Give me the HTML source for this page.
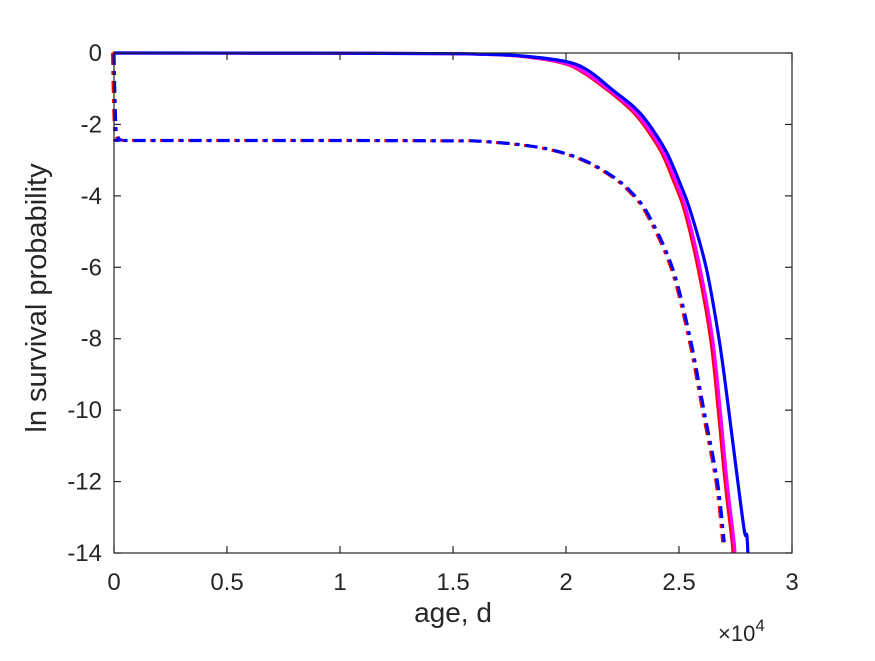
<!DOCTYPE html>
<html><head><meta charset="utf-8"><style>
body{margin:0;background:#fff;}
svg text{font-family:"Liberation Sans",sans-serif;fill:#262626;}
</style></head><body>
<svg id="chart" width="875" height="656" viewBox="0 0 875 656" xmlns="http://www.w3.org/2000/svg">
<rect width="875" height="656" fill="#fff"/>
<g id="series"></g>
<g id="axes"></g>
</svg>
<script>
const xTicks=[0,0.5,1,1.5,2,2.5,3];
const xTickLabels=["0","0.5","1","1.5","2","2.5","3"];
const yTicks=[0,-2,-4,-6,-8,-10,-12,-14];
const yTickLabels=["0","-2","-4","-6","-8","-10","-12","-14"];
const solidBlueT=[0,1.0,1.5,1.62,1.8,2.0,2.1,2.207,2.28,2.327,2.385,2.447,2.504,2.549,2.62,2.677,2.72,2.76,2.79,2.80,2.805];
const solidBlueV=[0,-0.005,-0.02,-0.03,-0.08,-0.24,-0.5,-1.04,-1.4,-1.68,-2.16,-2.8,-3.64,-4.4,-6,-8,-10,-12,-13.4,-13.5,-14];
const solidPinkT=[0,1.0,1.5,1.62,1.8,1.99,2.09,2.19,2.26,2.31,2.367,2.43,2.486,2.53,2.59,2.646,2.68,2.71,2.74,2.745];
const solidPinkV=[0,-0.005,-0.02,-0.035,-0.09,-0.28,-0.58,-1.04,-1.4,-1.7,-2.16,-2.8,-3.64,-4.4,-6,-8,-10,-12,-13.6,-14];
const dashT=[0,0.001,0.003,0.006,0.01,0.02,0.03,0.1,1.0,1.5,1.62,1.84,1.99,2.106,2.21,2.28,2.36,2.47,2.55,2.61,2.67,2.70];
const dashV=[0,-0.3,-1.0,-1.7,-2.2,-2.38,-2.43,-2.45,-2.45,-2.46,-2.47,-2.6,-2.8,-3.08,-3.47,-3.84,-4.48,-6,-8,-10,-12,-13.7];
const X0=114,X1=792,Y0=53,Y1=553;
function sx(v){return X0+(v-0)/(3-0)*(X1-X0);}
function sy(v){return Y0+(0-v)/(0-(-14))*(Y1-Y0);}
const NS="http://www.w3.org/2000/svg";
function pathD(ts,vs,dx){
 const P=ts.map((t,i)=>[sx(t)+(dx||0),sy(vs[i])]);
 let d="M"+P[0][0].toFixed(1)+","+P[0][1].toFixed(1);
 for(let i=0;i<P.length-1;i++){
  const p0=P[Math.max(0,i-1)],p1=P[i],p2=P[i+1],p3=P[Math.min(P.length-1,i+2)];
  const c1=[p1[0]+(p2[0]-p0[0])/6,p1[1]+(p2[1]-p0[1])/6];
  const c2=[p2[0]-(p3[0]-p1[0])/6,p2[1]-(p3[1]-p1[1])/6];
  d+=" C"+c1[0].toFixed(1)+","+c1[1].toFixed(1)+" "+c2[0].toFixed(1)+","+c2[1].toFixed(1)+" "+p2[0].toFixed(1)+","+p2[1].toFixed(1);
 }
 return d;}
const sg=document.getElementById('series');
function addPath(name,d,color,w,dash){
 const p=document.createElementNS(NS,'path');
 
 
 p.setAttribute('d',d);p.setAttribute('fill','none');p.setAttribute('stroke',color);
 p.setAttribute('stroke-width',w);p.setAttribute('stroke-linejoin','round');
 if(dash)p.setAttribute('stroke-dasharray',dash);
 sg.appendChild(p);
}
addPath('red-dashdot-line',pathD(dashT,dashV,-1.5),'#ff0000',3,'12 6 4 6');
addPath('blue-dashdot-line',pathD(dashT,dashV,0),'#0000ff',3.2,'12 6 4 6');
addPath('red-solid-line',pathD(solidPinkT,solidPinkV,-1.5),'#ff0000',3);
addPath('magenta-solid-line',pathD(solidPinkT,solidPinkV,0.5),'#ff00ff',3.2);
addPath('blue-solid-line',pathD(solidBlueT,solidBlueV,0),'#0000ff',3.2);
const ag=document.getElementById('axes');
function el(tag,attrs,name,txt){const e=document.createElementNS(NS,tag);for(const k in attrs)e.setAttribute(k,attrs[k]);
 
 
 if(txt!==undefined)e.textContent=txt;ag.appendChild(e);return e;}
el('rect',{x:X0,y:Y0,width:X1-X0,height:Y1-Y0,fill:'none',stroke:'#262626','stroke-width':1.2},'plot-frame');
xTicks.forEach((t,i)=>{const x=sx(t);
 el('line',{x1:x,y1:Y1,x2:x,y2:Y1-7,stroke:'#262626','stroke-width':1.2},'x-tick');
 el('line',{x1:x,y1:Y0,x2:x,y2:Y0+7,stroke:'#262626','stroke-width':1.2},'x-tick-top');
 el('text',{x:x,y:Y1+37,'text-anchor':'middle','font-size':24},'x-tick-label',xTickLabels[i]);});
yTicks.forEach((t,i)=>{const y=sy(t);
 el('line',{x1:X0,y1:y,x2:X0+7,y2:y,stroke:'#262626','stroke-width':1.2},'y-tick');
 el('line',{x1:X1,y1:y,x2:X1-7,y2:y,stroke:'#262626','stroke-width':1.2},'y-tick-right');
 el('text',{x:X0-12,y:y+8,'text-anchor':'end','font-size':24},'y-tick-label',yTickLabels[i]);});
el('text',{x:453,y:622,'text-anchor':'middle','font-size':28},'x-axis-title','age, d');
el('text',{x:298,y:46,'text-anchor':'middle','font-size':29,transform:'rotate(-90 298 298) translate(0 0)'},'y-axis-title','ln survival probability');
const m=el('text',{x:718,y:641,'font-size':22},'x-axis-exponent','×10');
const s=document.createElementNS(NS,'tspan');s.setAttribute('dy','-10');s.setAttribute('font-size','17');s.textContent='4';


m.appendChild(s);
</script>
</body></html>
